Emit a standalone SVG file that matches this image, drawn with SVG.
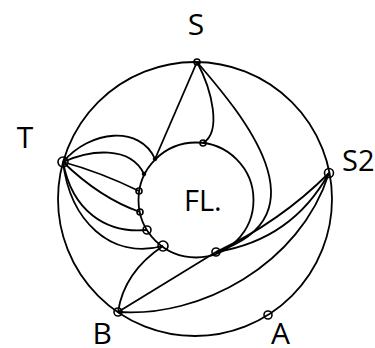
<svg xmlns="http://www.w3.org/2000/svg" width="375" height="348" viewBox="0 0 375 348">
<style>
.e{fill:none;stroke:#000;stroke-width:1.8}
.n{fill:none;stroke:#000;stroke-width:1.6}
.d{fill:#000;stroke:#000;stroke-width:1}
.t{font-family:"Open Sans","DejaVu Sans",sans-serif;font-size:30px;fill:#000}
</style>
<rect width="375" height="348" fill="#fff"/>
<g id="edges">
<circle class="e" cx="195" cy="199" r="137"/>
<circle class="e" cx="196" cy="200" r="57.5"/>
<path class="e" d="M197,62 L155,159"/>
<path class="e" d="M197,62 C212,90 222,132 203,143"/>
<path class="e" d="M197,62 C238,110 330,215 216,252"/>
<path class="e" d="M63,162 C90,130 140,125 155,159"/>
<path class="e" d="M63,162 C90,150 130,145 144,174"/>
<path class="e" d="M63,162 Q100,172 139,191"/>
<path class="e" d="M63,162 Q100,198 140,212"/>
<path class="e" d="M63,162 C72,210 105,234 147,230"/>
<path class="e" d="M63,162 C70,220 110,260 163,246"/>
<path class="e" d="M163,246 Q124,272 118,312"/>
<path class="e" d="M118,312 L216,252"/>
<path class="e" d="M118,312 C200,318 300,265 329,173"/>
<path class="e" d="M329,173 Q280,222 216,252"/>
<path class="e" d="M329,173 Q292,240 216,252"/>
</g>
<g id="node-S"><circle class="n" cx="197" cy="62" r="3"/><text class="t" x="196" y="35" text-anchor="middle">S</text></g>
<g id="node-T"><circle class="n" cx="63" cy="162" r="5"/><text class="t" x="25" y="148" text-anchor="middle">T</text></g>
<g id="node-S2"><circle class="n" cx="329" cy="173" r="4.5"/><text class="t" x="342" y="171" style="font-size:29px">S2</text></g>
<g id="node-B"><circle class="n" cx="118" cy="312" r="4"/><text class="t" x="112" y="344" text-anchor="end">B</text></g>
<g id="node-A"><circle class="n" cx="268" cy="315" r="4"/><text class="t" x="271" y="344">A</text></g>
<g id="node-FL"><text class="t" x="184" y="211" style="font-size:29px">FL.</text></g>
<g id="node-n1"><circle class="d" cx="155" cy="159" r="1.8"/></g>
<g id="node-n2"><circle class="d" cx="144" cy="174" r="1.8"/></g>
<g id="node-n3"><circle class="n" cx="139" cy="191" r="3"/></g>
<g id="node-n4"><circle class="n" cx="140" cy="212" r="3"/></g>
<g id="node-n5"><circle class="n" cx="147" cy="230" r="4"/></g>
<g id="node-n6"><circle class="n" cx="163" cy="246" r="5"/></g>
<g id="node-n7"><circle class="n" cx="216" cy="252" r="4"/></g>
<g id="node-n8"><circle class="n" cx="203" cy="143" r="3"/></g>
</svg>
